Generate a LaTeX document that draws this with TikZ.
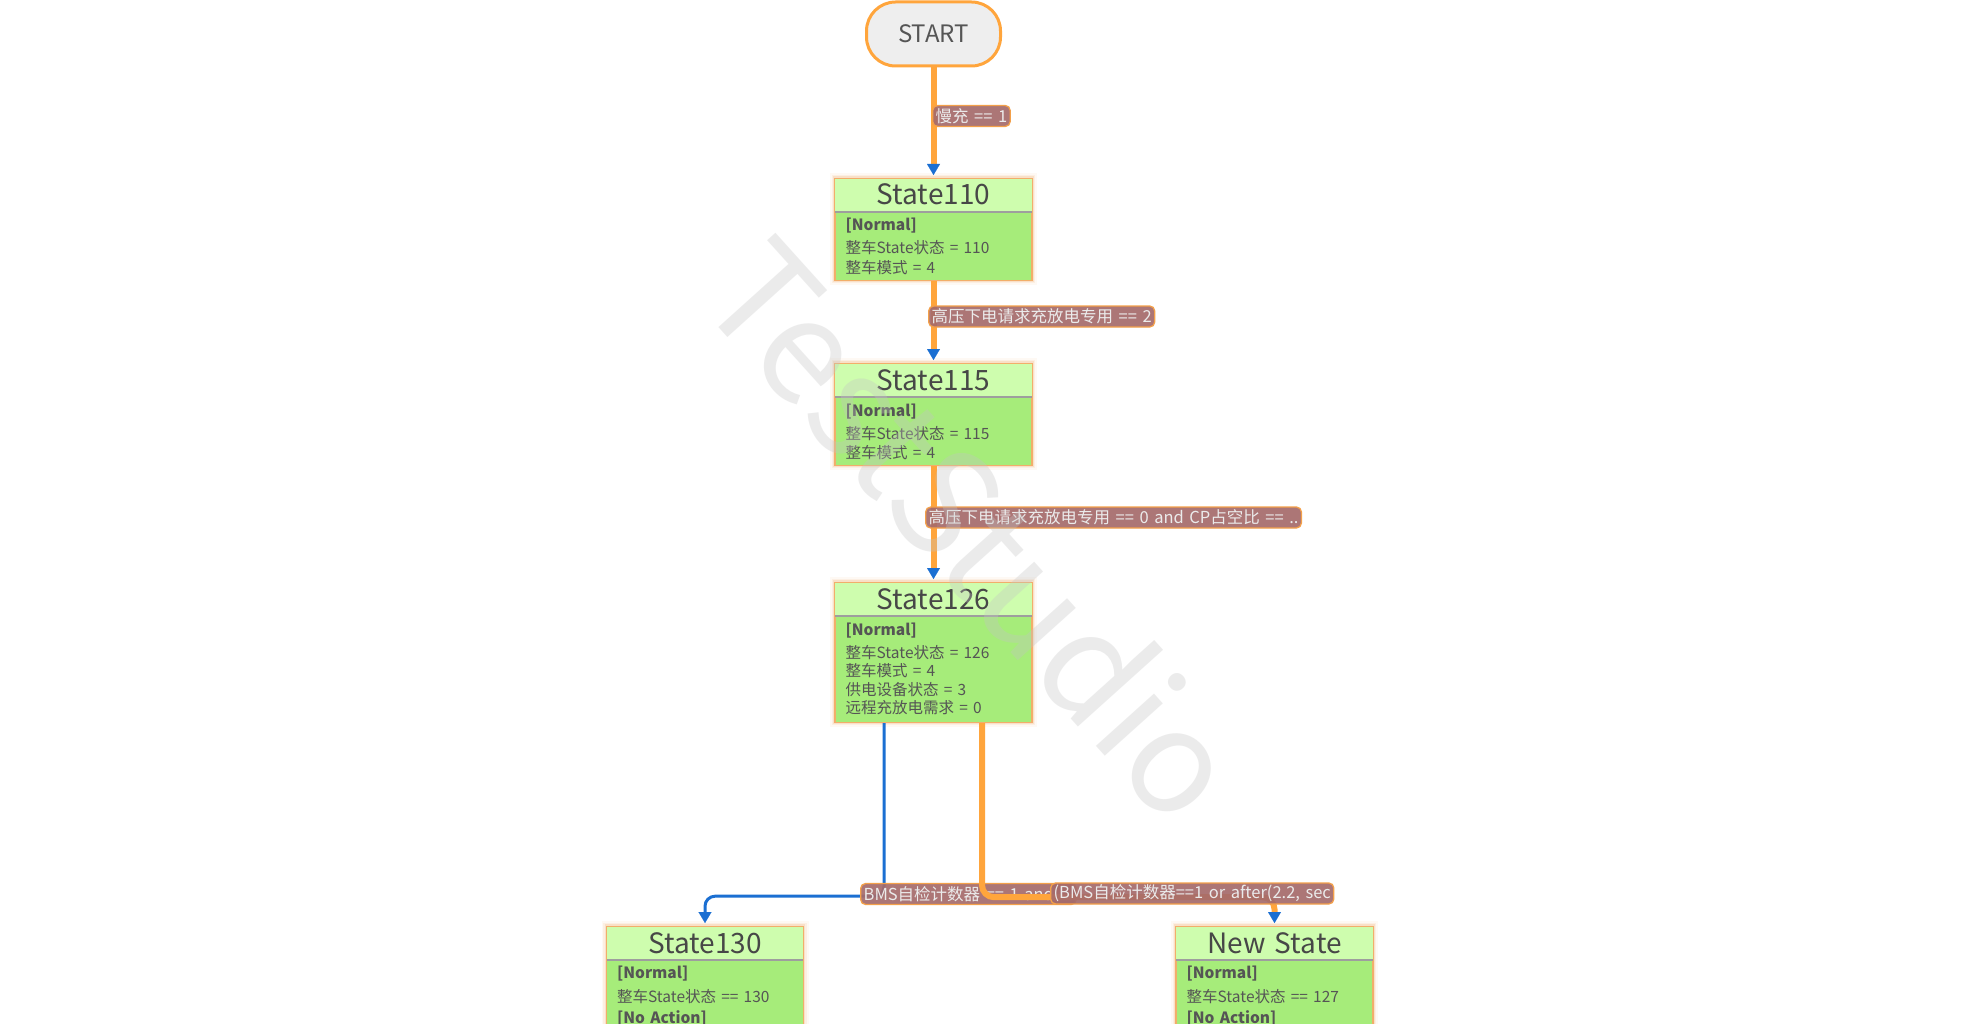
\documentclass[tikz,border=0pt]{standalone}
\usepackage{fontspec}
\setmainfont{Noto Sans CJK SC}[WordSpace=1.5]
\usetikzlibrary{arrows.meta,calc}

\definecolor{edgeorange}{HTML}{FFA53C}
\definecolor{tipblue}{HTML}{1B6FD2}
\definecolor{hdrgreen}{HTML}{CEFDAE}
\definecolor{bodygreen}{HTML}{A6EC7A}
\definecolor{boxline}{HTML}{F2AE6A}
\definecolor{lblfill}{HTML}{A56B6B}
\definecolor{lblline}{HTML}{F3A04A}
\definecolor{inktext}{HTML}{555555}
\definecolor{titletext}{HTML}{474747}
\definecolor{startfill}{HTML}{EEEEEE}
\definecolor{wmark}{HTML}{C4C4C4}

\newcommand\titlefont{\fontsize{28}{30}\selectfont}
\newcommand\bodyfont{\fontsize{15.5}{17}\selectfont}
\newcommand\lblfont{\fontsize{16.5}{18}\selectfont}

% state box: name, centre x, top y, height, title
\newcommand\stbox[5]{%
  \foreach \w/\o in {10/0.07,6.5/0.12,3.5/0.22}{%
    \draw[boxline,line width=\w pt,opacity=\o] (#2-98.5,#3) rectangle (#2+98.5,#3+#4);}
  \node[stbody,minimum height=#4pt,anchor=north] (#1) at (#2,#3) {};
  \fill[hdrgreen] ([shift={(0.7,0.7)}]#1.north west) rectangle ([shift={(-0.7,34)}]#1.north east);
  \draw[divider] ([shift={(0.7,34)}]#1.north west) -- ([shift={(-0.7,34)}]#1.north east);
  \node[sttitle,anchor=base] (#1-t) at ([shift={(0,27)}]#1.north) {#5};
}

\tikzset{
  stbody/.style={rectangle,draw=boxline,line width=1.2pt,fill=bodygreen,
    minimum width=197pt,inner sep=0pt},
  divider/.style={draw=black!38,line width=1.4pt},
  sttitle/.style={inner sep=0pt,text=titletext,font=\titlefont},
  stline/.style={inner sep=0pt,text=inktext,font=\bodyfont,anchor=base west},
  startnode/.style={rectangle,rounded corners=29pt,draw=edgeorange,line width=3pt,
    fill=startfill,minimum width=134pt,minimum height=64pt,text=inktext,
    font=\fontsize{24}{26}\selectfont},
  tip/.style={-{Triangle[length=11pt,width=13pt,line width=0.1pt,color=tipblue]}},
  oedge/.style={draw=edgeorange,line width=6pt,tip,shorten >=3pt},
  bedge/.style={draw=tipblue,line width=3pt,tip,shorten >=3pt},
  lbl/.style={rectangle,rounded corners=5pt,draw=lblline,line width=1.3pt,
    fill=lblfill,fill opacity=0.92,text opacity=1,text=white!92!black,font=\lblfont,
    inner xsep=3pt,inner ysep=0pt,minimum height=21pt,anchor=west},
}

\begin{document}
\begin{tikzpicture}[x=1pt,y=-1pt]
\useasboundingbox (0,0) rectangle (1980,1024);
\fill[white] (0,0) rectangle (1980,1024);

% start terminal
\node[startnode] (start) at (933.5,34) {START};

% states
\stbox{s110}{933.5}{178}{102}{State110}
\node[stline] (s110-a) at ([shift={(11,53)}]s110.north west) {\bfseries [Normal]};
\node[stline] (s110-b) at ([shift={(11,76)}]s110.north west) {整车State状态 = 110};
\node[stline] (s110-c) at ([shift={(11,95)}]s110.north west) {整车模式 = 4};

\stbox{s115}{933.5}{363}{102}{State115}
\node[stline] (s115-a) at ([shift={(11,53)}]s115.north west) {\bfseries [Normal]};
\node[stline] (s115-b) at ([shift={(11,76)}]s115.north west) {整车State状态 = 115};
\node[stline] (s115-c) at ([shift={(11,95)}]s115.north west) {整车模式 = 4};

\stbox{s126}{933.5}{582}{140}{State126}
\node[stline] (s126-a) at ([shift={(11,53)}]s126.north west) {\bfseries [Normal]};
\node[stline] (s126-b) at ([shift={(11,76)}]s126.north west) {整车State状态 = 126};
\node[stline] (s126-c) at ([shift={(11,94.5)}]s126.north west) {整车模式 = 4};
\node[stline] (s126-d) at ([shift={(11,113)}]s126.north west) {供电设备状态 = 3};
\node[stline] (s126-e) at ([shift={(11,131.5)}]s126.north west) {远程充放电需求 = 0};

\stbox{s130}{705}{926}{130}{State130}
\node[stline] (s130-a) at ([shift={(11,52)}]s130.north west) {\bfseries [Normal]};
\node[stline] (s130-b) at ([shift={(11,76)}]s130.north west) {整车State状态 == 130};
\node[stline] (s130-c) at ([shift={(11,97)}]s130.north west) {\bfseries [No Action]};

\stbox{snew}{1274.5}{926}{130}{New State}
\node[stline] (snew-a) at ([shift={(11,52)}]snew.north west) {\bfseries [Normal]};
\node[stline] (snew-b) at ([shift={(11,76)}]snew.north west) {整车State状态 == 127};
\node[stline] (snew-c) at ([shift={(11,97)}]snew.north west) {\bfseries [No Action]};

% transitions
\draw[oedge] (start.south) -- (s110.north);
\node[lbl] (l1) at (932,116) {慢充 == 1};

\draw[oedge] (s110.south) -- (s115.north);
\node[lbl] (l2) at (928,316.5) {高压下电请求充放电专用 == 2};

\draw[oedge] (s115.south) -- (s126.north);
\node[lbl] (l3) at (925,517.5) {高压下电请求充放电专用 == 0 and CP占空比 == ..};

\draw[bedge,rounded corners=10pt] ([xshift=-49.5pt]s126.south) -- ++(0,173) -| (s130.north);
\node[lbl] (l4) at (860,894) {BMS自检计数器 == 1 and ...};

\draw[oedge,rounded corners=12pt] ([xshift=48.5pt]s126.south) -- ++(0,174) -| (snew.north);
\node[lbl] (l5) at (1050,893.5) {(BMS自检计数器==1 or after(2.2, sec};

% watermark
\node[text=wmark,opacity=0.33,rotate=-48,font=\fontsize{144}{144}\selectfont,inner sep=0pt]
  (wm) at (975,528) {TestStudio};
\end{tikzpicture}
\end{document}
